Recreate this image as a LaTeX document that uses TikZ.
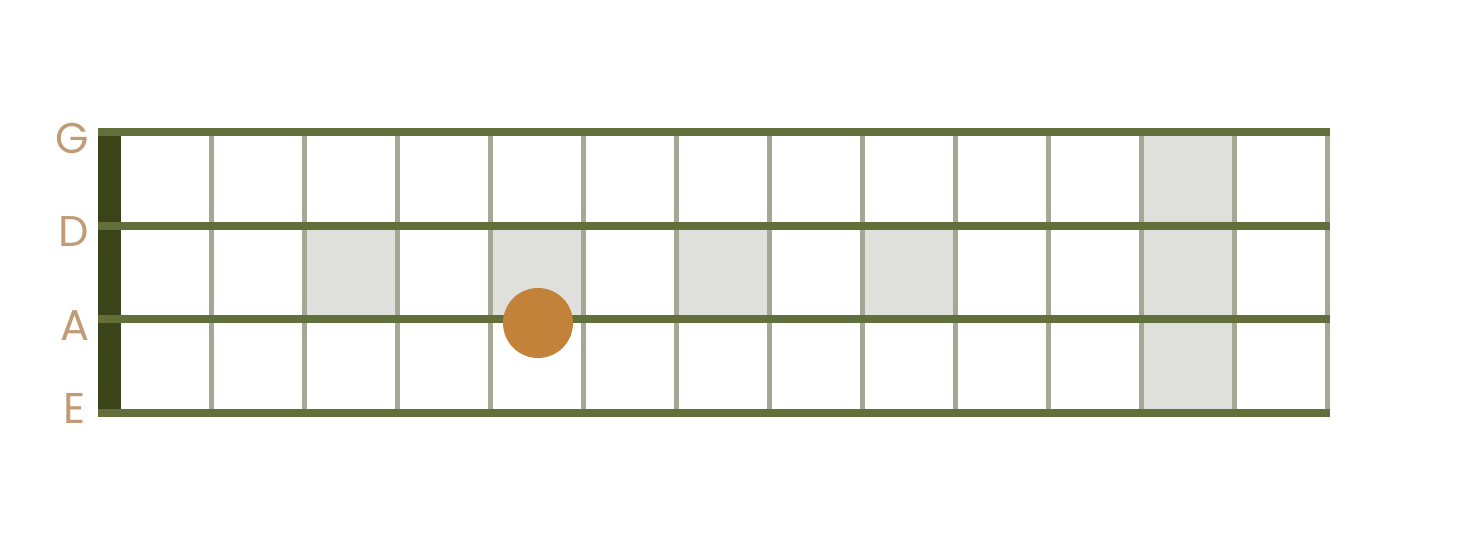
\documentclass[tikz,border=0pt]{standalone}
\usepackage{fontspec}
\setmainfont{Poppins}
\usetikzlibrary{positioning}
\definecolor{stringgreen}{HTML}{636F3A}
\definecolor{nutdark}{HTML}{3B4418}
\definecolor{fretgray}{HTML}{A6A895}
\definecolor{shadegray}{HTML}{DFE0DB}
\definecolor{dotorange}{HTML}{C3823A}
\definecolor{nametan}{HTML}{BF9C76}

\begin{document}
\begin{tikzpicture}[
          x=1pt, y=-1pt,
          string/.style={draw=stringgreen, line width=8pt},
          fret/.style={draw=fretgray, line width=5pt},
          cell/.style={fill=shadegray},
          stringname/.style={text=nametan, font=\fontsize{43}{43}\selectfont, inner sep=0pt},
          notedot/.style={circle, fill=dotorange, minimum size=70pt, inner sep=0pt}
        ]
        \useasboundingbox (0,0) rectangle (1469,549);

        % Shaded cells
        \foreach \xa/\xb in {304/397, 490/583, 676/769, 862/955}
          \fill[cell] (\xa,225) rectangle (\xb,319);
        \fill[cell] (1141,132) rectangle (1234,413);

        % Frets
        \foreach \k in {0,...,12}
          \draw[fret] (211+93.0*\k,132) -- (211+93.0*\k,413);

        % Nut
        \fill[nutdark] (98,132) rectangle (121,413);

        % Strings
        \foreach \y in {132,225.5,319,413}
          \draw[string] (98,\y) -- (1330,\y);

        % Note
        \node[notedot] (root) at (538,323) {};

        % String names
        \node[stringname] (nameG) at (72,138) {G};
        \node[stringname] (nameD) at (74,232) {D};
        \node[stringname] (nameA) at (75,326) {A};
        \node[stringname] (nameE) at (75,408) {E};

      \end{tikzpicture}
\end{document}
